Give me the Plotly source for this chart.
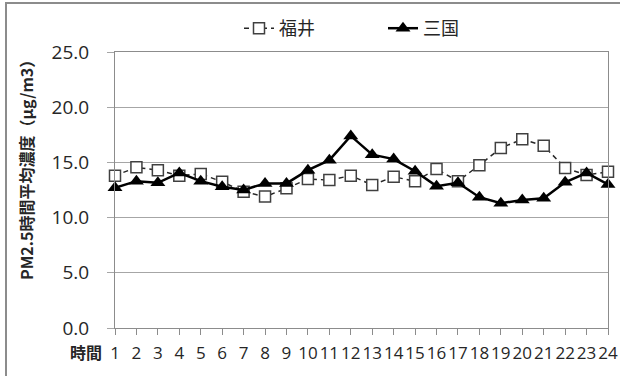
import plotly.graph_objects as go

# Hourly averages of PM2.5 (µg/m3) at two monitoring stations
hours = list(range(1, 25))
hour_labels = [str(h) for h in hours]
fukui = [13.8, 14.55, 14.3, 13.8, 13.95, 13.25, 12.35, 11.9, 12.65, 13.5, 13.4, 13.8,
         12.95, 13.7, 13.3, 14.4, 13.3, 14.75, 16.3, 17.1, 16.5, 14.5, 13.85, 14.15]
mikuni = [12.7, 13.3, 13.15, 14.05, 13.3, 12.8, 12.5, 13.1, 13.1, 14.3, 15.2, 17.4,
          15.7, 15.3, 14.2, 12.85, 13.15, 11.85, 11.3, 11.6, 11.75, 13.2, 14.05, 13.0]
y_ticks = [0, 5, 10, 15, 20, 25]

W, H = 620, 376
ML, MR, MT, MB = 115, 12, 52, 48
PW, PH = W - ML - MR, H - MT - MB


def px_x(p):
    return (p - ML) / PW


def px_y(p):
    return (H - MB - p) / PH


jp = "Noto Sans CJK JP"
num = "Open Sans"
txt = "#262626"

fig = go.Figure()
fig.add_trace(go.Scatter(
    x=hours, y=fukui, name="福井", mode="lines+markers", cliponaxis=False,
    line=dict(color="#262626", width=1.5, dash="5px,4px"),
    marker=dict(symbol="square", size=11, color="white",
                line=dict(color="#404040", width=1.5)),
))
fig.add_trace(go.Scatter(
    x=hours, y=mikuni, name="三国", mode="lines+markers", cliponaxis=False,
    line=dict(color="black", width=2.5),
    marker=dict(symbol="triangle-up", size=13, color="black"),
))

fig.update_layout(
    width=W, height=H,
    margin=dict(l=ML, r=MR, t=MT, b=MB, pad=0, autoexpand=False),
    paper_bgcolor="white", plot_bgcolor="white",
    showlegend=True,
    legend=dict(orientation="h", x=px_x(239), xanchor="left",
                y=px_y(10), yanchor="top",
                font=dict(family=jp, size=18, color=txt),
                entrywidth=99, entrywidthmode="pixels",
                bgcolor="rgba(0,0,0,0)", borderwidth=0),
    xaxis=dict(
        range=[1, 24], tickmode="array", tickvals=hours, ticktext=hour_labels,
        tickangle=0,
        showgrid=False, zeroline=False,
        showline=True, linecolor="#8c8c8c", linewidth=1, mirror=True,
        ticks="outside", ticklen=6, tickcolor="#8c8c8c", tickwidth=1,
        tickfont=dict(family=num, size=17, color=txt),
        ticklabelstandoff=4,
    ),
    yaxis=dict(
        range=[0, 25], tickmode="array", tickvals=y_ticks,
        ticktext=[f"{v:.1f}" for v in y_ticks],
        showgrid=True, gridcolor="#a6a6a6", gridwidth=1, zeroline=False,
        showline=True, linecolor="#8c8c8c", linewidth=1, mirror=True,
        ticks="outside", ticklen=7, tickcolor="#a6a6a6", tickwidth=1,
        tickfont=dict(family=num, size=19, color=txt),
        ticklabelstandoff=14,
    ),
)

# Axis captions
fig.add_annotation(
    text="PM2.5時間平均濃度（µg/m3）", textangle=-90,
    xref="paper", yref="paper", x=px_x(26), y=px_y(166),
    xanchor="center", yanchor="middle", showarrow=False,
    font=dict(family=jp, size=16, color=txt, weight="bold"),
)
fig.add_annotation(
    text="時間", xref="paper", yref="paper", x=px_x(104), y=px_y(352),
    xanchor="right", yanchor="middle", showarrow=False,
    font=dict(family=jp, size=16, color=txt, weight="bold"),
)

# Outer chart frame: only its left and top edges lie within the page
frame = dict(color="#8c8c8c", width=2)
fig.add_shape(type="line", xref="paper", yref="paper", layer="above",
              x0=px_x(6), x1=px_x(6), y0=px_y(3), y1=px_y(H), line=frame)
fig.add_shape(type="line", xref="paper", yref="paper", layer="above",
              x0=px_x(5), x1=px_x(W), y0=px_y(3), y1=px_y(3), line=frame)

fig.write_html("out.html")
